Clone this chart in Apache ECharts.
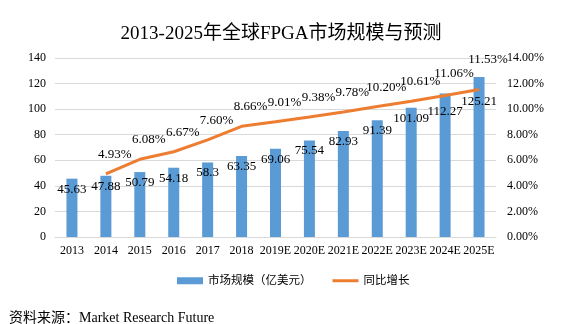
<!DOCTYPE html>
<html><head><meta charset="utf-8">
<script src="https://cdn.jsdelivr.net/npm/echarts@6/dist/echarts.min.js"></script>
<style>html,body{margin:0;padding:0;background:#fff}#c{width:562px;height:324px}</style>
</head><body><div id="c"></div>
<script>
var categories = ['2013','2014','2015','2016','2017','2018','2019E','2020E','2021E','2022E','2023E','2024E','2025E'];
var marketSize = [45.63,47.88,50.79,54.18,58.3,63.35,69.06,75.54,82.93,91.39,101.09,112.27,125.21];
var growth = [null,4.93,6.08,6.67,7.60,8.66,9.01,9.38,9.78,10.20,10.61,11.06,11.53];
var leftTicks = [0,20,40,60,80,100,120,140];
var rightTicks = [0,2,4,6,8,10,12,14];

var serif = '"Liberation Serif","Times New Roman","Noto Sans CJK SC",serif';
var chart = echarts.init(document.getElementById('c'), null, {renderer:'canvas'});
var last = categories.length - 1;
var barData = marketSize.map(function(v, i){
  var o = {value: v};
  if (i === last) o.label = {offset:[0,14]};
  else if (i === last-1) o.label = {offset:[0,8]};
  return o;
});
var lineData = growth.map(function(v, i){
  var o = {value: v};
  if (i === last) o.label = {offset:[9,-10]};
  else if (i === last-1) o.label = {offset:[9,-3]};
  return o;
});
chart.setOption({
  animation:false,
  backgroundColor:'#fff',
  textStyle:{fontFamily:serif,color:'#000'},
  title:[{text:'2013-2025年全球FPGA市场规模与预测',left:'center',top:20,
    textStyle:{fontFamily:serif,fontSize:19,fontWeight:'normal',color:'#000'}},
    {text:'资料来源：Market Research Future',left:4,top:306,
    textStyle:{fontFamily:serif,fontSize:14,fontWeight:'normal',color:'#000'}}],
  legend:{top:270,left:172,itemGap:21,itemWidth:26,itemHeight:7,
    textStyle:{fontFamily:serif,fontSize:11.5,color:'#000'},
    data:[{name:'市场规模（亿美元）',icon:'rect'},{name:'同比增长',icon:'path://M0,0H26V3H0Z'}]},
  grid:{left:55,right:66,top:58,bottom:87,containLabel:false},
  xAxis:{type:'category',data:categories,
    axisLine:{lineStyle:{color:'#D9D9D9'}},axisTick:{show:false},
    axisLabel:{color:'#000',fontSize:12,fontFamily:serif,margin:8,interval:0}},
  yAxis:[{type:'value',min:leftTicks[0],max:leftTicks[leftTicks.length-1],interval:leftTicks[1]-leftTicks[0],
    axisLine:{show:false},axisTick:{show:false},
    splitLine:{lineStyle:{color:'#D9D9D9'}},
    axisLabel:{color:'#000',fontSize:12,fontFamily:serif,margin:9}},
    {type:'value',min:rightTicks[0],max:rightTicks[rightTicks.length-1],interval:rightTicks[1]-rightTicks[0],
    axisLine:{show:false},axisTick:{show:false},splitLine:{show:false},
    axisLabel:{color:'#000',fontSize:12,fontFamily:serif,margin:11,
      formatter:function(v){return v.toFixed(2)+'%';}}}],
  series:[{name:'市场规模（亿美元）',type:'bar',data:barData,barWidth:11,
    itemStyle:{color:'#5B9BD5'},
    label:{show:true,position:'insideTop',distance:4,color:'#000',fontSize:13,fontFamily:serif}},
   {name:'同比增长',type:'line',yAxisIndex:1,data:lineData,symbol:'circle',symbolSize:0.01,showSymbol:true,
    lineStyle:{color:'#ED7D31',width:3},itemStyle:{color:'#ED7D31'},z:3,
    label:{show:true,position:'top',distance:13,offset:[9,0],color:'#000',fontSize:13,fontFamily:serif,
      formatter:function(p){return p.value==null?'':p.value.toFixed(2)+'%';}}}]
});
</script></body></html>
